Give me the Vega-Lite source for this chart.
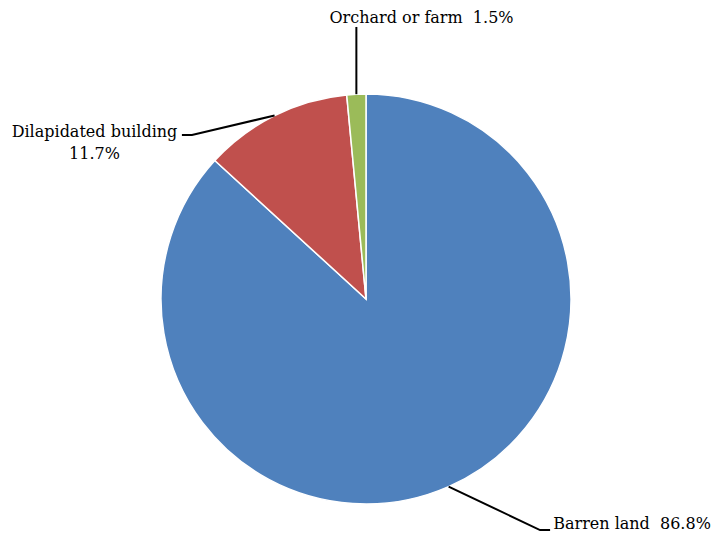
{
  "$schema": "https://vega.github.io/schema/vega-lite/v6.json",
  "width": 690,
  "height": 472,
  "autosize": {"type": "none"},
  "padding": {"left": 21, "top": 63, "right": 0, "bottom": 0},
  "background": "white",
  "config": {"view": {"stroke": null}},
  "datasets": {
    "slices": [
      {"category": "Barren land", "value": 86.8},
      {"category": "Dilapidated building", "value": 11.7},
      {"category": "Orchard or farm", "value": 1.5}
    ],
    "leaders": [
      {"category": "Orchard or farm", "step": 0, "px": -0.047, "py": 0.999},
      {"category": "Orchard or farm", "step": 1, "px": -0.047, "py": 1.327},
      {"category": "Dilapidated building", "step": 0, "px": -0.446, "py": 0.895},
      {"category": "Dilapidated building", "step": 1, "px": -0.849, "py": 0.8},
      {"category": "Dilapidated building", "step": 2, "px": -0.898, "py": 0.8},
      {"category": "Barren land", "step": 0, "px": 0.403, "py": -0.915},
      {"category": "Barren land", "step": 1, "px": 0.849, "py": -1.127},
      {"category": "Barren land", "step": 2, "px": 0.898, "py": -1.127}
    ],
    "labels": [
      {"category": "Orchard or farm", "text": "Orchard or farm\u00a0 1.5%", "px": 0.2707, "py": 1.3463},
      {"category": "Dilapidated building", "text": ["Dilapidated building", "11.7%"], "px": -1.3244, "py": 0.7902},
      {"category": "Barren land", "text": "Barren land\u00a0 86.8%", "px": 1.2976, "py": -1.122}
    ]
  },
  "layer": [
    {
      "data": {"name": "slices"},
      "mark": {"type": "arc", "outerRadius": 205, "stroke": "white", "strokeWidth": 1.5},
      "encoding": {
        "theta": {"field": "value", "type": "quantitative", "stack": true},
        "color": {
          "field": "category",
          "type": "nominal",
          "scale": {
            "domain": ["Barren land", "Dilapidated building", "Orchard or farm"],
            "range": ["#4F81BD", "#C0504D", "#9BBB59"]
          },
          "legend": null
        }
      }
    },
    {
      "data": {"name": "leaders"},
      "mark": {"type": "line", "color": "black", "strokeWidth": 2},
      "encoding": {
        "x": {"field": "px", "type": "quantitative", "scale": {"domain": [-1.6829, 1.6829], "nice": false, "zero": false}, "axis": null},
        "y": {"field": "py", "type": "quantitative", "scale": {"domain": [-1.1512, 1.1512], "nice": false, "zero": false}, "axis": null},
        "detail": {"field": "category", "type": "nominal"},
        "order": {"field": "step", "type": "quantitative"}
      }
    },
    {
      "data": {"name": "labels"},
      "mark": {"type": "text", "font": "DejaVu Serif", "fontSize": 16, "color": "black", "align": "center", "baseline": "alphabetic", "lineHeight": 22},
      "encoding": {
        "x": {"field": "px", "type": "quantitative", "scale": {"domain": [-1.6829, 1.6829], "nice": false, "zero": false}, "axis": null},
        "y": {"field": "py", "type": "quantitative", "scale": {"domain": [-1.1512, 1.1512], "nice": false, "zero": false}, "axis": null},
        "text": {"field": "text"}
      }
    }
  ]
}
